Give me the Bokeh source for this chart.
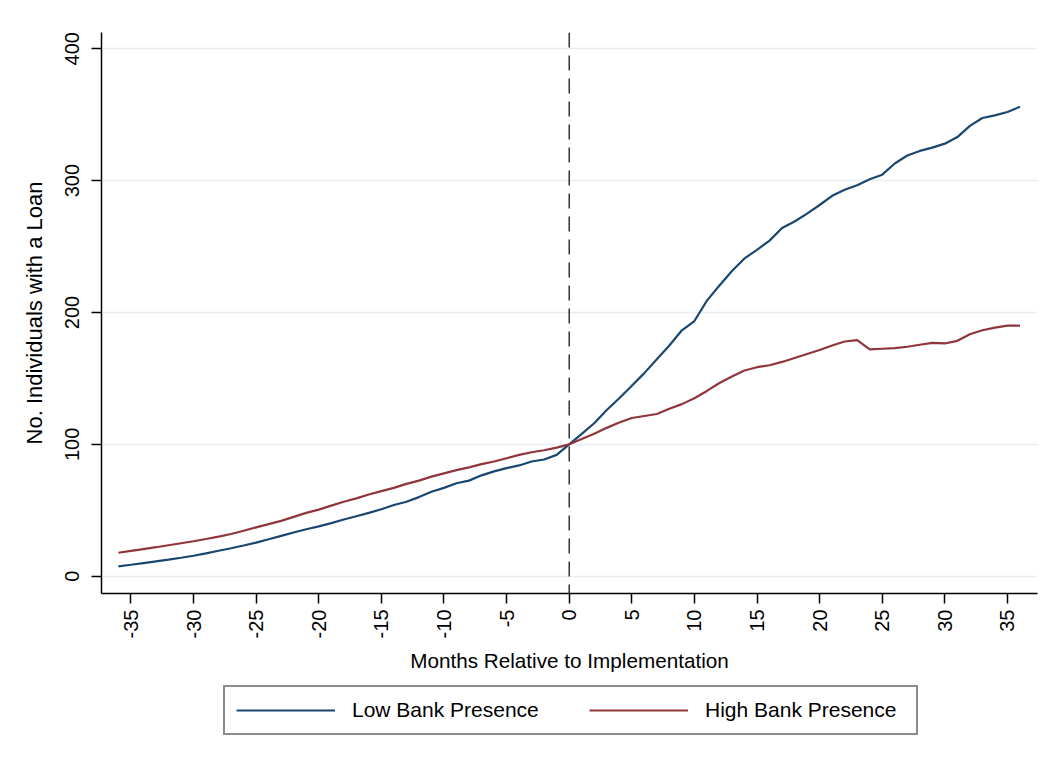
import math
from bokeh.plotting import figure
from bokeh.layouts import column
from bokeh.models import Range1d, Span, Legend, LegendItem, FixedTicker
from bokeh.embed import file_html
from bokeh.resources import INLINE

months = list(range(-36, 37))

low_bank = [
    7.5, 8.7, 10.0, 11.3, 12.6, 14.0, 15.5, 17.3, 19.3, 21.2,
    23.3, 25.5, 28.0, 30.6, 33.2, 35.6, 37.8, 40.3, 43.0, 45.5,
    48.0, 50.8, 54.0, 56.5, 60.0, 64.0, 67.0, 70.5, 72.5, 76.5,
    79.5, 82.0, 84.0, 87.0, 88.5, 92.0,
    100.0,
    108.0, 116.0, 126.0, 135.0, 144.5, 154.0, 164.5, 175.0, 186.5, 193.5,
    209.0, 220.5, 231.5, 241.0, 247.5, 254.5, 264.0, 269.0, 275.0, 281.5,
    288.5, 293.0, 296.5, 301.0, 304.5, 313.0, 319.0, 322.5, 325.0, 328.0,
    333.0, 341.5, 347.5, 349.5, 352.0, 356.0,
]

high_bank = [
    17.8, 19.2, 20.6, 22.0, 23.5, 25.0, 26.5, 28.2, 30.0, 32.0,
    34.5, 37.0, 39.5, 42.0, 45.0, 48.0, 50.5, 53.5, 56.5, 59.0,
    62.0, 64.5, 67.0, 70.0, 72.5, 75.5, 78.0, 80.5, 82.5, 85.0,
    87.0, 89.5, 92.0, 94.0, 95.5, 97.5,
    100.0,
    104.0, 108.0, 112.5, 116.5, 120.0, 121.5, 123.0, 127.0, 130.5, 135.0,
    140.5, 146.5, 151.5, 156.0, 158.5, 160.0, 162.5, 165.5, 168.5, 171.5,
    175.0, 178.0, 179.0, 172.0, 172.5, 173.0, 174.0, 175.5, 177.0, 176.5,
    178.5, 183.5, 186.5, 188.5, 190.0, 190.0,
]

series_names = ["Low Bank Presence", "High Bank Presence"]
x_ticks = list(range(-35, 40, 5))
x_tick_labels = [str(t) for t in x_ticks]
y_ticks = [0, 100, 200, 300, 400]
y_tick_labels = [str(t) for t in y_ticks]

FONT = "Liberation Sans"
NAVY = "#1a476f"
MAROON = "#90353b"

p = figure(
    width=1045, height=684,
    output_backend="svg", toolbar_location=None,
    x_range=Range1d(-37.35, 37.4), y_range=Range1d(-13.1, 412.3),
    min_border_left=101, min_border_right=8, min_border_top=32, min_border_bottom=91,
    x_axis_label="Months Relative to Implementation",
    y_axis_label="No. Individuals with a Loan",
)
p.outline_line_color = None
p.background_fill_color = "white"
p.border_fill_color = "white"

p.xgrid.visible = False
p.ygrid.ticker = FixedTicker(ticks=y_ticks)
p.ygrid.grid_line_color = "#e6edf1"
p.ygrid.grid_line_width = 1.5

for ax in (p.xaxis[0], p.yaxis[0]):
    ax.axis_line_color = "black"
    ax.axis_line_width = 1.5
    ax.major_tick_line_color = "black"
    ax.major_tick_line_width = 1.5
    ax.major_tick_out = 10
    ax.major_tick_in = 0
    ax.minor_tick_line_color = None
    ax.major_label_text_font = FONT
    ax.major_label_text_font_size = "20px"
    ax.major_label_text_color = "black"
    ax.axis_label_text_font = FONT
    ax.axis_label_text_font_style = "normal"
    ax.axis_label_text_color = "black"

p.xaxis.ticker = FixedTicker(ticks=x_ticks)
p.xaxis.major_label_overrides = dict(zip(x_ticks, x_tick_labels))
p.xaxis.major_label_orientation = math.pi / 2
p.xaxis.major_label_standoff = 6
p.xaxis.axis_label_standoff = 8
p.xaxis.axis_label_text_font_size = "20.7px"

p.yaxis.ticker = FixedTicker(ticks=y_ticks)
p.yaxis.major_label_overrides = dict(zip(y_ticks, y_tick_labels))
p.yaxis.major_label_orientation = "parallel"
p.yaxis.major_label_standoff = 12
p.yaxis.axis_label_standoff = 16
p.yaxis.axis_label_text_font_size = "22px"

r_low = p.line(months, low_bank, line_color=NAVY, line_width=2.2)
r_high = p.line(months, high_bank, line_color=MAROON, line_width=2.2)

p.add_layout(Span(location=0, dimension="height", line_color="black",
                  line_width=1.2, line_dash="15 8"))

# legend panel below the chart (its frame is aligned with the chart's frame)
pl = figure(
    width=1045, height=80, output_backend="svg", toolbar_location=None,
    x_range=Range1d(0, 1), y_range=Range1d(0, 1),
    x_axis_location=None, y_axis_location=None,
    min_border_left=0, min_border_right=0, min_border_top=0, min_border_bottom=0,
)
pl.outline_line_color = None
pl.xgrid.visible = False
pl.ygrid.visible = False
pl.border_fill_color = "white"
# same series drawn here only to supply the legend keys (outside this panel's view)
lg_low = pl.line(months, low_bank, line_color=NAVY, line_width=2.2)
lg_high = pl.line(months, high_bank, line_color=MAROON, line_width=2.2)

legend = Legend(
    items=[LegendItem(label=series_names[0], renderers=[lg_low]),
           LegendItem(label=series_names[1], renderers=[lg_high])],
    orientation="horizontal", location=(122, 29),
    label_text_font=FONT, label_text_font_size="21px", label_text_color="black",
    glyph_width=99, glyph_height=20, label_standoff=17, label_width=200,
    spacing=37, padding=11, margin=0,
    border_line_color="#1a1a1a", border_line_width=2,
    background_fill_color="white", background_fill_alpha=1.0,
)
pl.add_layout(legend, "center")

layout = column(p, pl, spacing=0)
open("out.html", "w").write(file_html(layout, INLINE))
